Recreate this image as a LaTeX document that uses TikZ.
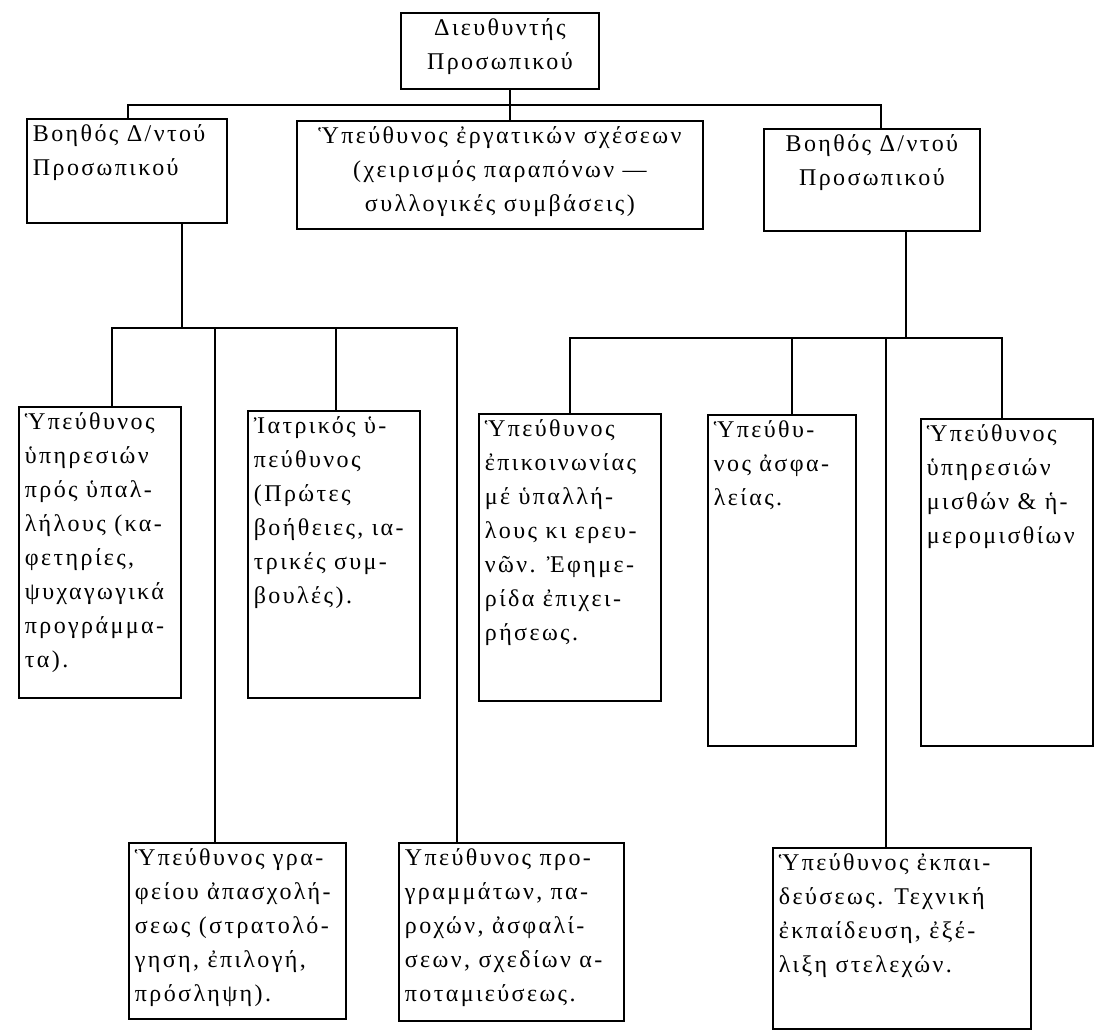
\documentclass[tikz,border=0pt]{standalone}
\usepackage{fontspec}
\setmainfont{Liberation Serif}[LetterSpace=10]
\newcommand{\orgtext}[3]{\parbox[t][#2][t]{#1}{\raggedright #3}}

\tikzset{
  unit/.style={draw, line width=0.9pt, anchor=north west, inner sep=3pt},
  link/.style={line width=0.9pt}
}

\begin{document}
\begin{tikzpicture}[x=0.5pt, y=-0.5pt, font=\fontsize{12pt}{17pt}\selectfont]
\useasboundingbox (0,0) rectangle (1095,1033);

\node[unit] (boss) at (400,12) {\orgtext{93pt}{32pt}{\centering Διευθυντής\\Προσωπικού}};
\node[unit] (asst1) at (26,118) {\orgtext{94pt}{46pt}{Βοηθός Δ/ντού\\Προσωπικού}};
\node[unit] (labrel) at (296,120) {\orgtext{197pt}{48pt}{\centering Ὑπεύθυνος ἐργατικών σχέσεων\\(χειρισμός παραπόνων —\\συλλογικές συμβάσεις)}};
\node[unit] (asst2) at (763,128) {\orgtext{102pt}{45pt}{\centering Βοηθός Δ/ντού\\Προσωπικού}};

\node[unit] (care) at (18,406) {\orgtext{75pt}{139.5pt}{Ὑπεύθυνος\\ὑπηρεσιών\\πρός ὑπαλ-\\λήλους (κα-\\φετηρίες,\\ψυχαγωγικά\\προγράμμα-\\τα).}};
\node[unit] (medic) at (247,410) {\orgtext{80pt}{137.5pt}{Ἰατρικός ὑ-\\πεύθυνος\\(Πρώτες\\βοήθειες, ια-\\τρικές συμ-\\βουλές).}};
\node[unit] (comm) at (478,413) {\orgtext{85pt}{137.5pt}{Ὑπεύθυνος\\ἐπικοινωνίας\\μέ ὑπαλλή-\\λους κι ερευ-\\νῶν. Ἐφημε-\\ρίδα ἐπιχει-\\ρήσεως.}};
\node[unit] (safety) at (707,414) {\orgtext{68pt}{159.5pt}{Ὑπεύθυ-\\νος ἀσφα-\\λείας.}};
\node[unit] (payroll) at (920,418) {\orgtext{80pt}{157.5pt}{Ὑπεύθυνος\\ὑπηρεσιών\\μισθών \& ἡ-\\μερομισθίων}};

\node[unit] (hiring) at (128,842) {\orgtext{102.5pt}{82pt}{Ὑπεύθυνος γρα-\\φείου ἀπασχολή-\\σεως (στρατολό-\\γηση, ἐπιλογή,\\πρόσληψη).}};
\node[unit] (benefit) at (398,842) {\orgtext{106.5pt}{83pt}{Υπεύθυνος προ-\\γραμμάτων, πα-\\ροχών, ἀσφαλί-\\σεων, σχεδίων α-\\ποταμιεύσεως.}};
\node[unit] (train) at (772,847) {\orgtext{123pt}{84.5pt}{Ὑπεύθυνος ἐκπαι-\\δεύσεως. Τεχνική\\ἐκπαίδευση, ἐξέ-\\λιξη στελεχών.}};

\coordinate (t0) at (510,105);
\coordinate (t1) at (128,105);
\coordinate (t2) at (881,105);
\draw[link] (asst1.north -| t1) -- (t1) -- (t2) -- (asst2.north -| t2);
\draw[link] (boss.south -| t0) -- (labrel.north -| t0);

\coordinate (l0) at (182,328);
\coordinate (l1) at (112,328);
\coordinate (l2) at (215,328);
\coordinate (l3) at (336,328);
\coordinate (l4) at (457,328);
\draw[link] (asst1.south -| l0) -- (l0);
\draw[link] (care.north -| l1) -- (l1) -- (l4) -- (benefit.north -| l4);
\draw[link] (l2) -- (hiring.north -| l2);
\draw[link] (l3) -- (medic.north -| l3);

\coordinate (r0) at (906,338);
\coordinate (r1) at (570,338);
\coordinate (r2) at (792,338);
\coordinate (r3) at (886,338);
\coordinate (r4) at (1002,338);
\draw[link] (asst2.south -| r0) -- (r0);
\draw[link] (comm.north -| r1) -- (r1) -- (r4) -- (payroll.north -| r4);
\draw[link] (r2) -- (safety.north -| r2);
\draw[link] (r3) -- (train.north -| r3);
\end{tikzpicture}
\end{document}
